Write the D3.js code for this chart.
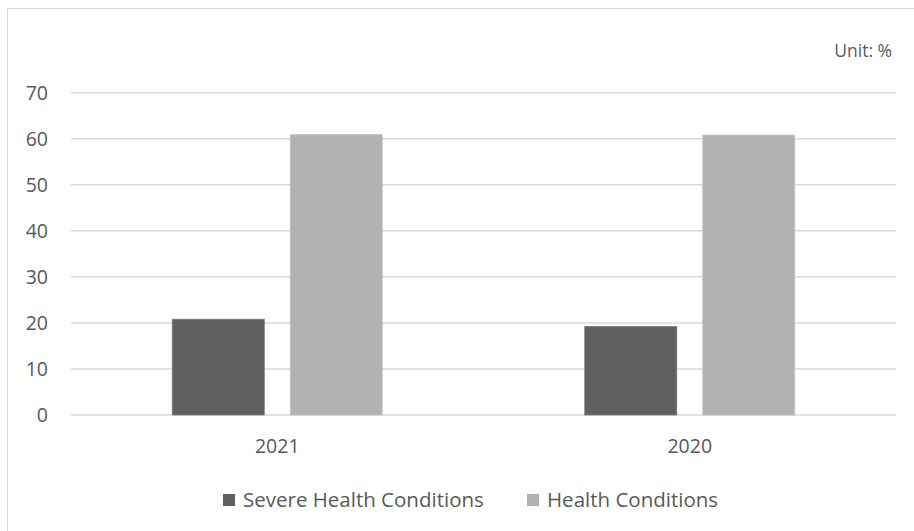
<!DOCTYPE html>
<html>
<head>
<meta charset="utf-8">
<script src="https://cdn.jsdelivr.net/npm/d3@7"></script>
<style>
  body { margin: 0; background: #fff; }
  text { font-family: "Open Sans", sans-serif; fill: #595959; }
</style>
</head>
<body>
<div id="chart"></div>
<script>
// data
const years = ['2021', '2020'];
const seriesNames = ['Severe Health Conditions', 'Health Conditions'];
const severeValues = [20.8, 19.2];
const healthValues = [60.9, 60.8];
const yTicks = [0, 10, 20, 30, 40, 50, 60, 70];
const unitLabel = 'Unit: %';

const colors = ['#5f5f5f', '#b2b2b2'];
const strokes = ['#7a7a7a', '#c4c4c4'];

const width = 914;
const height = 531;

const svg = d3.select('#chart')
  .append('svg')
  .attr('width', width)
  .attr('height', height);

// chart frame (only top/left visible in the crop)
svg.append('rect')
  .attr('x', 7.5)
  .attr('y', 8.5)
  .attr('width', width + 20)
  .attr('height', height + 20)
  .attr('fill', 'none')
  .attr('stroke', '#d9d9d9')
  .attr('stroke-width', 1.2);

const x = d3.scaleBand()
  .domain(years)
  .range([71, 896]);

const y = d3.scaleLinear()
  .domain([0, 70])
  .range([415, 92.7]);

const groupWidth = 210;
const inner = d3.scaleBand()
  .domain(seriesNames)
  .range([-groupWidth / 2, groupWidth / 2])
  .paddingInner(0.22);

// gridlines
svg.append('g')
  .selectAll('line')
  .data(yTicks)
  .enter()
  .append('line')
  .attr('x1', 71)
  .attr('x2', 896)
  .attr('y1', d => y(d))
  .attr('y2', d => y(d))
  .attr('stroke', '#d9d9d9')
  .attr('stroke-width', 1.5);

// y tick labels
svg.append('g')
  .selectAll('text')
  .data(yTicks)
  .enter()
  .append('text')
  .attr('x', 48)
  .attr('y', d => y(d))
  .attr('dy', '0.36em')
  .attr('text-anchor', 'end')
  .style('font-size', '19.5px')
  .text(d => d);

// bars
const rows = years.map((yr, i) => ({ year: yr, values: [severeValues[i], healthValues[i]] }));

const groups = svg.append('g')
  .selectAll('g')
  .data(rows)
  .enter()
  .append('g')
  .attr('transform', d => `translate(${x(d.year) + x.bandwidth() / 2},0)`);

groups.selectAll('rect')
  .data(d => d.values.map((v, j) => ({ name: seriesNames[j], value: v, j })))
  .enter()
  .append('rect')
  .attr('x', d => inner(d.name))
  .attr('width', inner.bandwidth())
  .attr('y', d => y(d.value))
  .attr('height', d => y(0) - y(d.value))
  .attr('fill', d => colors[d.j])
  .attr('stroke', d => strokes[d.j])
  .attr('stroke-width', 0.8);

// x labels
svg.append('g')
  .selectAll('text')
  .data(years)
  .enter()
  .append('text')
  .attr('x', d => x(d) + x.bandwidth() / 2)
  .attr('y', 453)
  .attr('text-anchor', 'middle')
  .style('font-size', '19.5px')
  .text(d => d);

// unit label
svg.append('text')
  .attr('x', 892)
  .attr('y', 57)
  .attr('text-anchor', 'end')
  .style('font-size', '17.5px')
  .text(unitLabel);

// legend
const legendX = [223, 527];
const legend = svg.append('g')
  .selectAll('g')
  .data(seriesNames)
  .enter()
  .append('g')
  .attr('transform', (d, i) => `translate(${legendX[i]},0)`);

legend.append('rect')
  .attr('x', 0)
  .attr('y', 494)
  .attr('width', 12)
  .attr('height', 12)
  .attr('fill', (d, i) => colors[i]);

legend.append('text')
  .attr('x', 20)
  .attr('y', 506.5)
  .style('font-size', '20.5px')
  .text(d => d);
</script>
</body>
</html>
